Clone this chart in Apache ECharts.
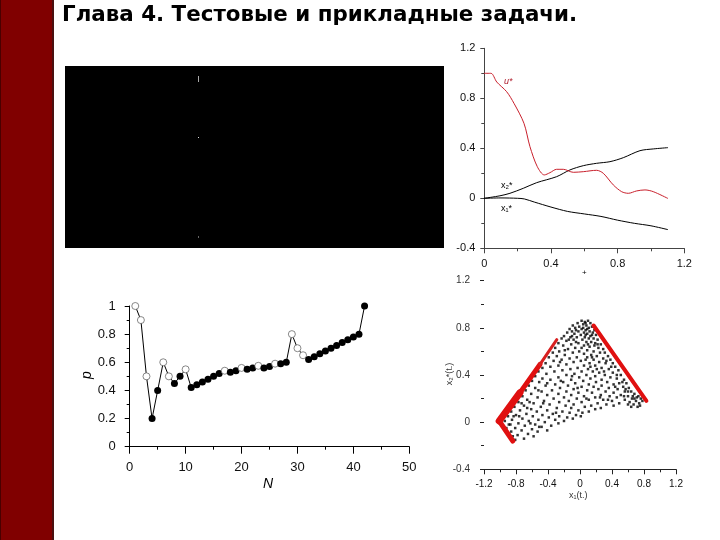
<!DOCTYPE html>
<html>
<head>
<meta charset="utf-8">
<style>html,body{margin:0;padding:0;background:#fff}#main{width:720px;height:540px}</style>
<script src="https://cdn.jsdelivr.net/npm/echarts@6/dist/echarts.min.js"></script>
</head>
<body>
<div id="main"></div>
<script>
// N / p chart, bottom left
var pValues = [1,.9,.5,.2,.4,.6,.5,.45,.5,.55,.42,.44,.46,.48,.5,.52,.54,.53,.54,.56,.55,.56,.575,.56,.57,.59,.59,.6,.8,.7,.65,.62,.64,.66,.68,.7,.72,.74,.76,.78,.8,1];
var openN = [1,2,3,6,7,10,17,20,23,26,29,30,31];

// control curves, top right
var uStar = [[0,1],[.04,1],[.075,.93],[.134,.853],[.178,.76],[.238,.6],[.274,.413],[.318,.253],[.36,.187],[.394,.205],[.434,.232],[.474,.232],[.534,.208],[.594,.213],[.674,.224],[.714,.2],[.774,.107],[.824,.053],[.864,.04],[.914,.059],[.964,.067],[1.014,.053],[1.1,0]];
var x2Star = [[0,0],[.094,.02],[.154,.04],[.234,.08],[.314,.125],[.434,.173],[.514,.227],[.594,.261],[.674,.28],[.754,.293],[.834,.325],[.934,.381],[1.014,.395],[1.1,.405]];
var x1Star = [[0,0],[.1,.003],[.2,0],[.24,-.005],[.3,-.03],[.4,-.07],[.5,-.105],[.6,-.125],[.7,-.145],[.8,-.175],[.9,-.2],[1,-.22],[1.1,-.25]];

// reachable set, bottom right
var edgeLow = [[-1.01,.01],[-.84,-.16]];
var edgeLeftA = [[-1.01,.01],[-.75,.25]];
var edgeLeftB = [[-.75,.25],[-.5,.49]];
var edgeLeftC = [[-.5,.49],[-.29,.7]];
var edgeRight = [[.17,.82],[.83,.18]];
var dots = [
[.02,.86],[.06,.85],[.1,.86],[-.03,.84],[.04,.83],[.08,.82],[.13,.84],[-.09,.82],[-.01,.81],[.11,.8],[.15,.81],[-.06,.8],[.02,.79],[.07,.78],[-.13,.79],[-.1,.77],[-.02,.77],[.12,.77],[.18,.78],[.05,.76],[-.16,.76],[-.07,.75],[.09,.75],[.15,.74],[.01,.74],[-.2,.73],[-.12,.72],[-.04,.72],[.06,.72],[.2,.74],[.11,.71],[.17,.71],[-.23,.71],[-.08,.7],[.03,.7],[.22,.7],[-.17,.69],[.08,.68],[.14,.68],[-.27,.67],[-.02,.67],[.19,.67],[-.11,.66],[.05,.65],[.26,.66],[-.21,.65],[.12,.64],[.02,.63],[-.06,.63],[.23,.63],[-.31,.63],[.29,.62],
[-.15,.62],[.09,.61],[.17,.6],[-.26,.6],[-.01,.6],[.31,.59],[-.09,.59],[.25,.59],[.05,.58],[-.34,.59],[-.19,.57],[.14,.57],[.35,.56],[-.29,.56],[.21,.56],[-.04,.55],[.09,.55],[-.13,.54],[.29,.54],[-.39,.55],[.38,.53],[.17,.53],[-.23,.53],[.01,.52],[-.33,.52],[.24,.51],[.12,.5],[-.08,.51],[.41,.5],[-.43,.5],[.32,.5],[-.17,.49],[.05,.48],[-.27,.48],[.19,.48],[.44,.47],[-.37,.47],[-.03,.46],[.27,.46],[.1,.45],[-.47,.46],[-.12,.45],[.36,.45],
[-.22,.44],[.48,.44],[.16,.43],[-.52,.43],[.02,.43],[-.32,.43],[.24,.42],[.41,.42],[-.07,.41],[-.42,.41],[.08,.4],[.31,.4],[-.17,.4],[.51,.4],[-.56,.39],[.19,.39],[-.27,.38],[-.01,.38],[.38,.38],[-.47,.37],[.13,.37],[.46,.37],[-.11,.36],[.27,.36],[.55,.36],[-.37,.36],[-.6,.35],[.04,.35],[-.21,.34],[.34,.34],[.2,.34],[-.51,.34],[.49,.33],[-.06,.33],[.58,.33],[.11,.32],[-.31,.32],[.42,.32],[-.64,.31],[-.15,.31],[.27,.31],[-.43,.31],[.02,.3],[.54,.3],[.17,.3],[.36,.29],
[-.25,.29],[.61,.29],[-.56,.29],[-.08,.28],[.47,.28],[.23,.28],[-.68,.27],[.09,.27],[-.35,.27],[.64,.26],[.32,.26],[-.17,.26],[.56,.26],[-.48,.26],[-.02,.25],[.42,.25],[.15,.25],[.68,.24],[-.61,.24],[-.27,.24],[.26,.23],[.51,.23],[-.11,.23],[-.41,.23],[.6,.22],[.05,.22],[.37,.22],[-.72,.22],[.71,.21],[-.2,.21],[.19,.21],[-.53,.21],[.46,.21],[.65,.2],[-.33,.2],[-.04,.2],[.29,.19],[.76,.2],[.56,.19],[-.66,.19],[.11,.19],[-.14,.18],[.4,.18],[-.45,.18],[.7,.18],[.78,.18],[.62,.17],
[-.77,.17],[-.26,.17],[.02,.17],[.22,.16],[.74,.16],[-.58,.16],[.49,.16],[-.08,.15],[.33,.15],[.67,.15],[-.38,.15],[-.18,.14],[.14,.14],[-.7,.14],[.42,.14],[.72,.13],[-.49,.13],[.06,.13],[-.82,.13],[.26,.12],[-.29,.12],[-.11,.12],[.64,.13],[-.61,.11],[.19,.11],[-.02,.1],[-.41,.1],[-.75,.1],[.11,.09],[-.22,.09],[-.54,.09],[-.86,.09],[-.13,.08],[.03,.08],[-.34,.07],[-.67,.07],[-.47,.06],[-.05,.06],[-.8,.06],[-.26,.05],[-.59,.05],[-.9,.05],[.01,.05],[-.16,.04],[-.39,.04],[-.72,.03],[-.09,.03],[-.52,.02],[-.31,.02],[-.85,.02],[-.2,.01],[-.64,.01],[-.94,.01],
[-.44,0],[-.77,-.01],[-.27,-.01],[-.56,-.02],[-.89,-.02],[-.36,-.03],[-.69,-.03],[-.48,-.04],[-.81,-.05],[-.6,-.06],[-.92,-.05],[-.41,-.07],[-.73,-.07],[-.53,-.08],[-.86,-.08],[-.65,-.1],[-.78,-.11],[-.58,-.12],[-.84,-.12],[-.7,-.14],[-.81,-.15],
[.07,.84],[-.05,.78],[.04,.8],[.13,.73],[-.1,.73],[.09,.79],[.16,.76],[-.14,.7],[.07,.74],[.18,.65],[-.05,.68],[.1,.66],[-.19,.61],[.22,.66],[.33,.52],[.15,.55],[.46,.4],[.39,.47],[.57,.28],[.53,.34],[.66,.22],[.6,.26],[.73,.22],[.68,.2],[.75,.14],[.6,.15],[.55,.22],[.44,.3],[.3,.43],[.21,.45],[.07,.53],[-.25,.51],[-.41,.33],[-.52,.27],[-.63,.17],[-.73,.16],[-.83,.05],[-.76,.05],[-.62,-.01],[-.51,-.04],[-.87,-.02],[-.66,.12],[-.46,.16],[-.3,.08],[.08,.2],[.25,.21],[.35,.19],[-.1,.39],[-.03,.29],[.13,.47],[-.24,.35]
];

function seriesLine(name, data, color, width, gx, smooth, z) {
    return {
        name: name,
        type: 'line',
        xAxisIndex: gx,
        yAxisIndex: gx,
        data: data,
        showSymbol: false,
        symbol: 'none',
        smooth: smooth,
        z: z,
        silent: true,
        lineStyle: {color: color, width: width, cap: 'round', join: 'round'}
    };
}

var pData = [];
for (var i = 0; i < pValues.length; i++) {
    var n = i + 1;
    var isOpen = openN.indexOf(n) >= 0;
    pData.push({
        value: [n, pValues[i]],
        symbolSize: 7,
        itemStyle: isOpen ? {color: '#fff', borderColor: '#555', borderWidth: .7} : {color: '#000', borderColor: '#000', borderWidth: 0}
    });
}

function axisBase(min, max, interval, fontSize, color, tickLen, margin) {
    return {
        type: 'value',
        min: min,
        max: max,
        interval: interval,
        splitLine: {show: false},
        axisLine: {show: true, onZero: false, lineStyle: {color: color, width: 1}},
        axisTick: {show: true, length: tickLen, lineStyle: {color: color, width: 1}},
        minorTick: {show: true, splitNumber: 2, length: 3, lineStyle: {color: color, width: 1}},
        axisLabel: {fontFamily: 'Liberation Sans', fontSize: fontSize, color: '#111', margin: margin, showMinLabel: true, showMaxLabel: true}
    };
}

var yBR = axisBase(-.4, 1.2, .4, 10, '#222', 4, 14);
yBR.axisLine = {show: false, onZero: false};
yBR.axisLabel.color = '#333';

var option = {
    animation: false,
    backgroundColor: '#fff',
    grid: [
        {left: 129.7, top: 306, width: 279.6, height: 140.7},
        {left: 484.3, top: 48.3, width: 200, height: 200},
        {left: 484, top: 280.7, width: 192, height: 188.6}
    ],
    xAxis: [
        Object.assign(axisBase(0, 50, 10, 13, '#000', 7, 14), {gridIndex: 0}),
        Object.assign(axisBase(0, 1.2, .4, 11, '#444', 5, 10), {gridIndex: 1}),
        Object.assign(axisBase(-1.2, 1.2, .4, 10, '#222', 5, 10), {gridIndex: 2})
    ],
    yAxis: [
        Object.assign(axisBase(0, 1, .2, 13, '#000', 5, 14), {gridIndex: 0}),
        Object.assign(axisBase(-.4, 1.2, .4, 11, '#444', 4, 9), {gridIndex: 1}),
        Object.assign(yBR, {gridIndex: 2})
    ],
    series: [
        {
            name: 'p',
            type: 'line',
            xAxisIndex: 0,
            yAxisIndex: 0,
            symbol: 'circle',
            showAllSymbol: true,
            data: pData,
            lineStyle: {color: '#000', width: 1},
            silent: true
        },
        seriesLine('u*', uStar, '#c8202c', 1, 1, .3, 3),
        seriesLine('x2*', x2Star, '#000', 1, 1, .3, 2),
        seriesLine('x1*', x1Star, '#000', 1, 1, .3, 2),
        {
            name: 'dots',
            type: 'scatter',
            xAxisIndex: 2,
            yAxisIndex: 2,
            symbol: 'rect',
            symbolSize: 2.5,
            data: dots,
            silent: true,
            itemStyle: {color: '#000'}
        },
        seriesLine('edgeLow', edgeLow, '#e01010', 5, 2, false, 4),
        seriesLine('edgeLeftA', edgeLeftA, '#e01010', 7, 2, false, 4),
        seriesLine('edgeLeftB', edgeLeftB, '#e01010', 5, 2, false, 4),
        seriesLine('edgeLeftC', edgeLeftC, '#d82020', 3, 2, false, 4),
        seriesLine('edgeRight', edgeRight, '#e01010', 4, 2, false, 4)
    ],
    graphic: [
        {type: 'rect', left: 0, top: 0, shape: {width: 53, height: 540}, style: {fill: '#800000'}},
        {type: 'rect', left: 0, top: 0, shape: {width: 1, height: 540}, style: {fill: '#4a0000'}},
        {type: 'rect', left: 52, top: 0, shape: {width: 2, height: 540}, style: {fill: '#4a1010'}},
        {type: 'text', left: 62, top: 5, style: {text: 'Глава 4. Тестовые и прикладные задачи.', fontFamily: 'DejaVu Sans', fontWeight: 'bold', fontSize: 21.4, fill: '#000'}},
        {type: 'rect', left: 65, top: 66, shape: {width: 379, height: 182}, style: {fill: '#000'}},
        {type: 'rect', left: 198, top: 76, shape: {width: 1, height: 6}, style: {fill: '#aaa'}},
        {type: 'rect', left: 198, top: 137, shape: {width: 1, height: 1}, style: {fill: '#ddd'}},
        {type: 'rect', left: 198, top: 236, shape: {width: 1, height: 2}, style: {fill: '#666'}},
        {type: 'text', left: 582, top: 269, style: {text: '+', fontFamily: 'Liberation Sans', fontSize: 8, fill: '#000'}},
        {type: 'text', left: 504, top: 77, style: {text: 'u*', fontFamily: 'Liberation Sans', fontStyle: 'italic', fontSize: 9, fill: '#b02030'}},
        {type: 'text', left: 501, top: 181, style: {text: 'x₂*', fontFamily: 'Liberation Sans', fontSize: 9, fill: '#000'}},
        {type: 'text', left: 501, top: 204, style: {text: 'x₁*', fontFamily: 'Liberation Sans', fontSize: 9, fill: '#000'}},
        {type: 'text', left: 263, top: 477, style: {text: 'N', fontFamily: 'Liberation Sans', fontStyle: 'italic', fontSize: 14, fill: '#000'}},
        {type: 'text', x: 87, y: 375, rotation: Math.PI / 2, style: {text: 'p', fontFamily: 'Liberation Sans', fontStyle: 'italic', fontSize: 14, fill: '#000', align: 'center', verticalAlign: 'middle'}},
        {type: 'text', left: 569, top: 491, style: {text: 'x₁(t.)', fontFamily: 'Liberation Sans', fontSize: 9, fill: '#333'}},
        {type: 'text', x: 450, y: 374, rotation: Math.PI / 2, style: {text: 'x₂*(t.)', fontFamily: 'Liberation Sans', fontSize: 9, fill: '#333', align: 'center', verticalAlign: 'middle'}}
    ]
};

var myChart = echarts.init(document.getElementById('main'));
myChart.setOption(option);
</script>
</body>
</html>
